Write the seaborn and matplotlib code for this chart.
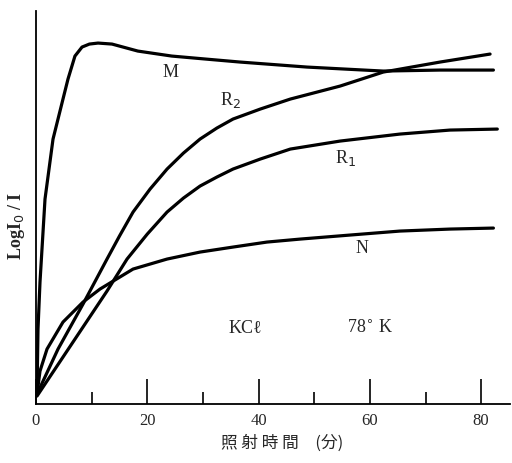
import matplotlib
matplotlib.use("Agg")
import matplotlib.pyplot as plt
import pandas as pd
import seaborn as sns
from matplotlib.ticker import MultipleLocator

# Data (time in minutes, LogI0/I in arbitrary units)
m_time = [0.18, 0.36, 0.72, 1.62, 3.06, 4.85, 5.75, 7.0, 8.27, 9.6, 11.15, 13.66, 18.3, 24.4, 30.5,
          36.7, 48.7, 55.5, 62.4, 72.6, 82.2]
m_vals = [0.10, 0.75, 1.22, 2.05, 2.65, 3.05, 3.25, 3.48, 3.57, 3.60, 3.61, 3.60, 3.53, 3.48, 3.45,
          3.42, 3.37, 3.35, 3.33, 3.34, 3.34]

r2_time = [0.18, 3.96, 8.45, 12.76, 15.0, 17.44, 20.5, 23.55, 26.5, 29.48, 32.5, 35.4, 40.3, 45.7,
           54.65, 62.4, 72.6, 81.6]
r2_vals = [0.10, 0.55, 1.00, 1.45, 1.68, 1.92, 2.15, 2.35, 2.51, 2.65, 2.76, 2.85, 2.95, 3.05,
           3.18, 3.32, 3.42, 3.50]

r1_time = [0.18, 5.57, 12.76, 16.36, 20.0, 23.55, 26.5, 29.48, 32.5, 35.4, 40.3, 45.7, 54.65, 65.4,
           74.4, 82.9]
r1_vals = [0.08, 0.53, 1.13, 1.45, 1.70, 1.92, 2.06, 2.18, 2.27, 2.35, 2.45, 2.55, 2.63, 2.70,
           2.74, 2.75]

n_time = [0.18, 0.72, 1.98, 4.85, 8.45, 11.5, 17.44, 23.55, 29.48, 35.4, 41.5, 47.5, 56.4, 65.4,
          74.4, 82.2]
n_vals = [0.10, 0.33, 0.55, 0.82, 1.02, 1.15, 1.35, 1.45, 1.52, 1.57, 1.62, 1.65, 1.69, 1.73,
          1.75, 1.76]

curve_names = ["M", "R2", "R1", "N"]
x_ticks = [0, 20, 40, 60, 80]

frames = []
for name, t, v in zip(curve_names,
                      [m_time, r2_time, r1_time, n_time],
                      [m_vals, r2_vals, r1_vals, n_vals]):
    frames.append(pd.DataFrame({"time": t, "value": v, "curve": name}))
df = pd.concat(frames, ignore_index=True)

sns.set_theme(style="white")
plt.rcParams["font.family"] = ["Liberation Serif", "Noto Sans CJK JP", "DejaVu Sans"]

fig = plt.figure(figsize=(5.12, 4.64), dpi=100)
ax = fig.add_axes([0.0703, 0.127, 0.926, 0.847])

sns.lineplot(data=df, x="time", y="value", hue="curve",
             palette={n: "black" for n in curve_names},
             estimator=None, sort=False, linewidth=2.3, legend=False, ax=ax,
             solid_joinstyle="round", solid_capstyle="round")

ax.set_xlim(0, 85.2)
ax.set_ylim(0, 3.93)
ax.set_xticks(x_ticks)
ax.xaxis.set_minor_locator(MultipleLocator(10))
ax.set_yticks([])
ax.tick_params(axis="x", which="major", direction="in", length=18, width=1.2,
               color="black", labelsize=12, pad=6, bottom=True)
ax.tick_params(axis="x", which="minor", direction="in", length=9, width=1.2,
               color="black", bottom=True)
for side in ["top", "right"]:
    ax.spines[side].set_visible(False)
for side in ["left", "bottom"]:
    ax.spines[side].set_color("black")
    ax.spines[side].set_linewidth(1.3)

ax.set_xlabel("照 射 時 間　(分)", family=["Noto Sans CJK JP"], fontsize=12)
ax.xaxis.set_label_coords(0.52, -0.075)
ax.set_ylabel("LogI$_0$ / I", fontsize=13, fontweight="bold")
ax.yaxis.set_label_coords(-0.018, 0.455)

ax.text(24.1, 3.33, "M", fontsize=13, ha="center", va="center")
ax.text(34.9, 3.05, "R$_2$", fontsize=13, ha="center", va="center")
ax.text(55.6, 2.47, "R$_1$", fontsize=13, ha="center", va="center")
ax.text(58.6, 1.57, "N", fontsize=13, ha="center", va="center")
ax.text(37.6, 0.77, "KCℓ", fontsize=13, ha="center", va="center")
ax.text(60.0, 0.77, "78$^{\\circ}$ K", fontsize=13, ha="center", va="center")

fig.savefig("out.png", dpi=100)
